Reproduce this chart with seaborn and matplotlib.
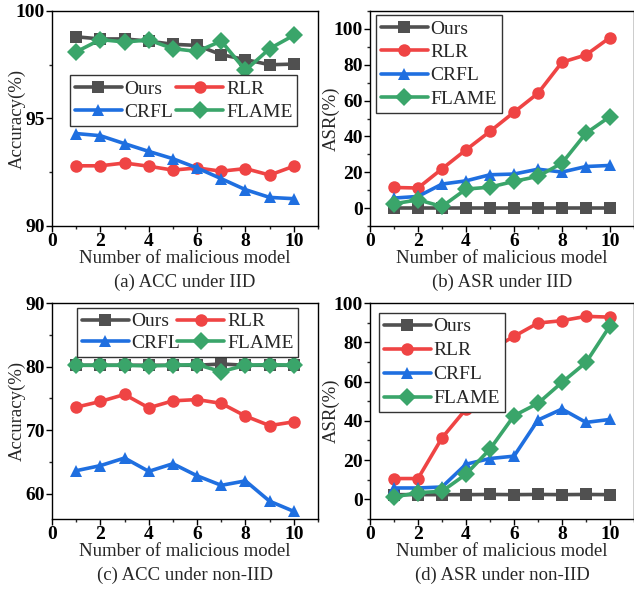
import matplotlib
matplotlib.use("Agg")
import matplotlib.pyplot as plt
import seaborn as sns
import pandas as pd
from matplotlib.ticker import MultipleLocator

sns.set_theme(style="ticks")
plt.rcParams['font.family'] = ['Liberation Serif', 'DejaVu Serif']
plt.rcParams['mathtext.fontset'] = 'stix'

x = [1, 2, 3, 4, 5, 6, 7, 8, 9, 10]
methods = ["Ours", "RLR", "CRFL", "FLAME"]

# (a) ACC under IID
acc_iid_ours = [98.8, 98.7, 98.7, 98.6, 98.45, 98.4, 97.97, 97.74, 97.5, 97.53]
acc_iid_rlr = [92.8, 92.8, 92.93, 92.78, 92.6, 92.7, 92.55, 92.67, 92.37, 92.78]
acc_iid_crfl = [94.3, 94.2, 93.83, 93.47, 93.13, 92.7, 92.2, 91.69, 91.33, 91.27]
acc_iid_flame = [98.1, 98.67, 98.56, 98.65, 98.25, 98.12, 98.6, 97.24, 98.25, 98.87]

# (b) ASR under IID
asr_iid_ours = [0, 0, 0, 0, 0, 0, 0, 0, 0, 0]
asr_iid_rlr = [11.5, 11.2, 21.9, 32.5, 42.8, 53.5, 64.1, 81.4, 85.5, 95.2]
asr_iid_crfl = [5.6, 6.5, 13.4, 15.2, 18.6, 19.0, 21.7, 20.1, 23.2, 23.8]
asr_iid_flame = [2.4, 4.6, 0.9, 10.6, 11.7, 14.9, 17.7, 25.1, 41.8, 51.1]

# (c) ACC under non-IID
acc_non_ours = [80.2, 80.2, 80.2, 80.2, 80.2, 80.2, 80.4, 80.2, 80.2, 80.2]
acc_non_rlr = [73.6, 74.5, 75.6, 73.5, 74.6, 74.8, 74.2, 72.2, 70.7, 71.3]
acc_non_crfl = [63.6, 64.4, 65.6, 63.5, 64.7, 62.8, 61.3, 62.0, 58.8, 57.2]
acc_non_flame = [80.2, 80.2, 80.2, 80.1, 80.2, 80.3, 79.2, 80.2, 80.3, 80.2]

# (d) ASR under non-IID
asr_non_ours = [2.4, 2.4, 2.4, 2.4, 2.5, 2.4, 2.5, 2.4, 2.5, 2.4]
asr_non_rlr = [10.6, 10.6, 31.3, 46.0, 76.0, 83.0, 89.8, 91.0, 93.2, 92.8]
asr_non_crfl = [5.8, 5.8, 6.3, 17.9, 20.8, 22.0, 40.4, 46.0, 39.2, 40.7]
asr_non_flame = [1.2, 3.4, 4.1, 12.8, 25.6, 42.6, 48.9, 59.6, 69.7, 88.4]

palette = {"Ours": "#505050", "RLR": "#EF4444", "CRFL": "#1F6FE0", "FLAME": "#3AA56A"}
markers = {"Ours": "s", "RLR": "o", "CRFL": "^", "FLAME": "D"}

def make_df(series):
    rows = []
    for m, vals in zip(methods, series):
        for xi, v in zip(x, vals):
            rows.append({"x": xi, "y": v, "Method": m})
    return pd.DataFrame(rows)

panels = [
    dict(series=[acc_iid_ours, acc_iid_rlr, acc_iid_crfl, acc_iid_flame],
         rect=[52, 11, 266, 215], ylim=(90, 100), ymaj=5, ymin=2.5,
         ylabel="Accuracy(%)", title="(a) ACC under IID", ncol=2,
         anchor=(0.068, 0.702), lsp=0.3, ylx=-0.10, csp=0.15),
    dict(series=[asr_iid_ours, asr_iid_rlr, asr_iid_crfl, asr_iid_flame],
         rect=[370, 11, 264, 215], ylim=(-10, 110), ymaj=20, ymin=10,
         ylabel="ASR(%)", title="(b) ASR under IID", ncol=1,
         anchor=(0.023, 0.981), lsp=0.3, ylx=-0.115, csp=0.4),
    dict(series=[acc_non_ours, acc_non_rlr, acc_non_crfl, acc_non_flame],
         rect=[52, 303, 266, 216], ylim=(56, 90), ymaj=10, ymin=5,
         ylabel="Accuracy(%)", title="(c) ACC under non-IID", ncol=2,
         anchor=(0.094, 0.977), lsp=0.2, ylx=-0.10, csp=-0.15),
    dict(series=[asr_non_ours, asr_non_rlr, asr_non_crfl, asr_non_flame],
         rect=[370, 303, 264, 216], ylim=(-10, 100), ymaj=20, ymin=10,
         ylabel="ASR(%)", title="(d) ASR under non-IID", ncol=1,
         anchor=(0.034, 0.954), lsp=0.33, ylx=-0.115, csp=0.4),
]

W, H = 634, 589
fig = plt.figure(figsize=(W / 100, H / 100), dpi=100)

for p in panels:
    l, t, w, h = p["rect"]
    ax = fig.add_axes([l / W, 1 - (t + h) / H, w / W, h / H])
    df = make_df(p["series"])
    sns.lineplot(data=df, x="x", y="y", hue="Method", style="Method",
                 palette=palette, markers=markers, dashes=False,
                 hue_order=methods, style_order=methods,
                 linewidth=2.6, markersize=9, markeredgewidth=0,
                 ax=ax)
    ax.set_xlim(0, 11)
    ax.set_ylim(*p["ylim"])
    ax.xaxis.set_major_locator(MultipleLocator(2))
    ax.xaxis.set_minor_locator(MultipleLocator(1))
    ax.yaxis.set_major_locator(MultipleLocator(p["ymaj"]))
    ax.yaxis.set_minor_locator(MultipleLocator(p["ymin"]))
    ax.tick_params(which="major", direction="out", length=4, width=1, pad=1,
                   labelsize=14, colors="black")
    ax.tick_params(which="minor", direction="out", length=2.5, width=1)
    for lab in ax.get_xticklabels() + ax.get_yticklabels():
        lab.set_fontweight("bold")
    for s in ax.spines.values():
        s.set_visible(True)
        s.set_linewidth(1.0)
        s.set_color("black")
    ax.set_xlabel("Number of malicious model", fontsize=13.5, labelpad=0)
    ax.set_ylabel(p["ylabel"], fontsize=13.5)
    ax.yaxis.set_label_coords(p["ylx"], 0.5)
    ax.text(0.5, -0.26, p["title"], transform=ax.transAxes,
            ha="center", va="center", fontsize=13.5)
    handles, labels = ax.get_legend_handles_labels()
    hmap = dict(zip(labels, handles))
    if p["ncol"] == 2:
        order = ["Ours", "CRFL", "RLR", "FLAME"]
    else:
        order = methods
    leg = ax.legend([hmap[k] for k in order], order, ncol=p["ncol"],
                    loc="upper left",
                    bbox_to_anchor=p["anchor"], borderaxespad=0,
                    fontsize=14, frameon=True, fancybox=False,
                    edgecolor="#333333", framealpha=1,
                    handlelength=2.4, handletextpad=0.15,
                    columnspacing=p["csp"], labelspacing=p["lsp"], borderpad=0.25)
    leg.get_frame().set_linewidth(1.0)

fig.savefig("out.png", dpi=100)
